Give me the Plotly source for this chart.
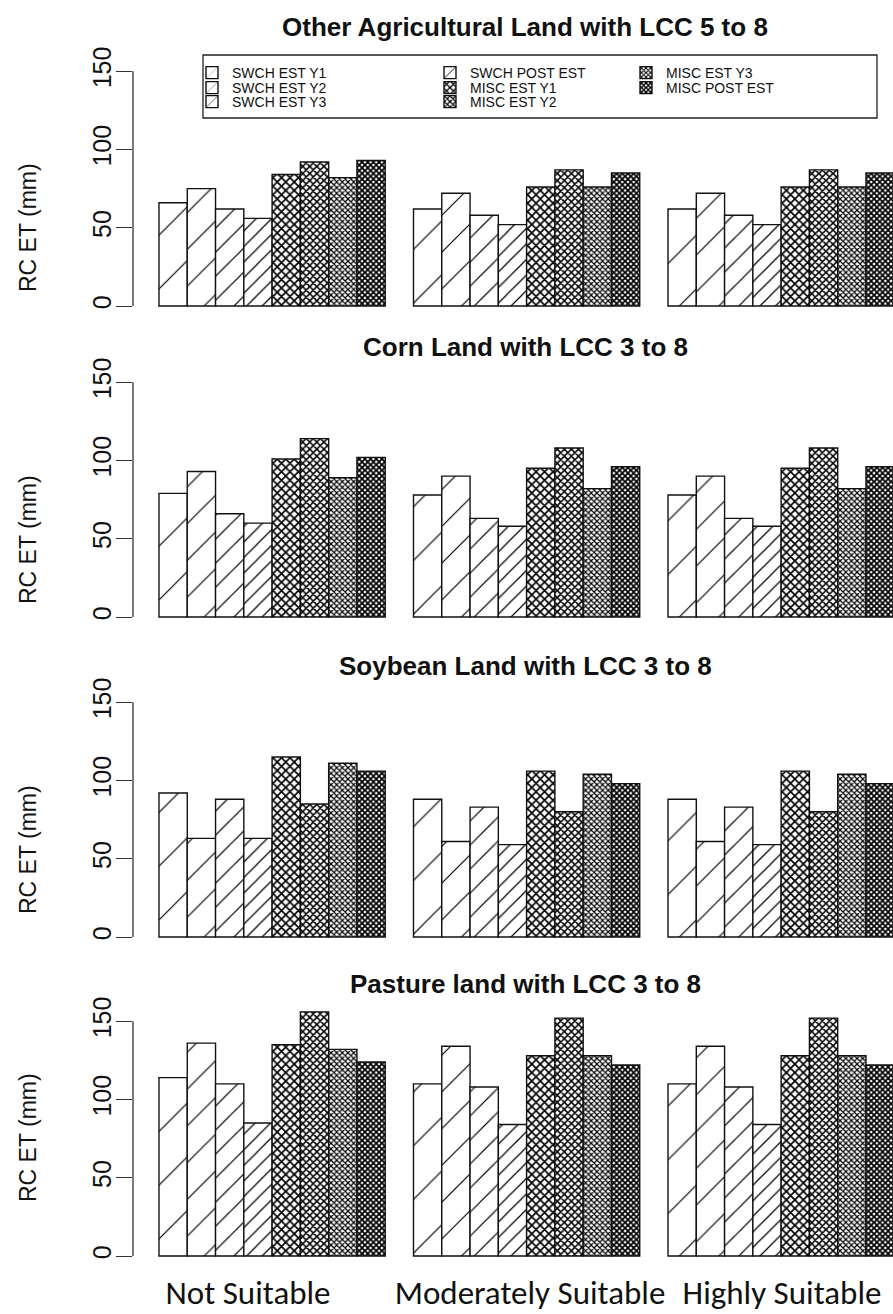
import plotly.graph_objects as go

W, H = 893, 1314

# ---- data -------------------------------------------------------------
suitability = ["Not Suitable", "Moderately Suitable", "Highly Suitable"]
series = ["SWCH EST Y1", "SWCH EST Y2", "SWCH EST Y3", "SWCH POST EST",
          "MISC EST Y1", "MISC EST Y2", "MISC EST Y3", "MISC POST EST"]
panel_titles = ["Other Agricultural Land with LCC 5 to 8",
                "Corn Land with LCC 3 to 8",
                "Soybean Land with LCC 3 to 8",
                "Pasture land with LCC 3 to 8"]
y_ticks = [0, 50, 100, 150]

# RC ET (mm); one row per suitability class, columns in series order
other_ag = [[66, 75, 62, 56, 84, 92, 82, 93],
            [62, 72, 58, 52, 76, 87, 76, 85],
            [62, 72, 58, 52, 76, 87, 76, 85]]
corn = [[79, 93, 66, 60, 101, 114, 89, 102],
        [78, 90, 63, 58, 95, 108, 82, 96],
        [78, 90, 63, 58, 95, 108, 82, 96]]
soybean = [[92, 63, 88, 63, 115, 85, 111, 106],
           [88, 61, 83, 59, 106, 80, 104, 98],
           [88, 61, 83, 59, 106, 80, 104, 98]]
pasture = [[114, 136, 110, 85, 135, 156, 132, 124],
           [110, 134, 108, 84, 128, 152, 128, 122],
           [110, 134, 108, 84, 128, 152, 128, 122]]
panels = [other_ag, corn, soybean, pasture]

# ---- styling ----------------------------------------------------------
FONT = "Liberation Sans, Arial, sans-serif"
INK = "#111"
patterns = [
    dict(shape="/", size=38, solidity=0.032),
    dict(shape="/", size=26, solidity=0.046),
    dict(shape="/", size=17, solidity=0.07),
    dict(shape="/", size=11, solidity=0.11),
    dict(shape="x", size=6, solidity=0.48),
    dict(shape="x", size=5, solidity=0.52),
    dict(shape="x", size=4, solidity=0.52),
    dict(shape="x", size=4, solidity=0.68),
]

# horizontal layout: one unit per bar, one empty unit before each group
px_per_unit = 28.28
x0_px = 130.7
axis_left_px = 133
x_range = [(axis_left_px - x0_px) / px_per_unit, (W - x0_px) / px_per_unit]
label_px = [248, 530, 782]
label_pos = [(p - x0_px) / px_per_unit for p in label_px]

# vertical layout per panel: pixel row of value 0, pixels per mm
zero_px = [306, 617, 937, 1256]
py_per_unit = 1.565
y_range = [-2, 166]
ylab_px = [228, 540, 850, 1138]
title_px = [27, 347, 666, 984]

# legend grid (R-style, filled column by column)
leg_col_px = [192, 430, 626]
leg_row_px = [73, 88, 102]

fig = go.Figure()
layout = dict(
    width=W, height=H, margin=dict(l=0, r=0, t=0, b=0),
    paper_bgcolor="white", plot_bgcolor="white",
    barmode="overlay", font=dict(family=FONT, color=INK),
)
shapes, annotations = [], []

for p, data in enumerate(panels):
    sfx = "" if p == 0 else str(p + 1)
    xa, ya = "x" + sfx, "y" + sfx
    for i, name in enumerate(series):
        fig.add_trace(go.Bar(
            x=[9 * g + i + 1.5 for g in range(3)],
            y=[data[g][i] for g in range(3)],
            width=1.0, name=name, legendgroup=name,
            legend="legend" if i == 0 else "legend%d" % (i + 1),
            showlegend=(p == 0),
            marker=dict(color="white",
                        line=dict(color=INK, width=1.4),
                        pattern=dict(fgcolor="black", bgcolor="white",
                                     fgopacity=1, **patterns[i])),
            xaxis=xa, yaxis=ya, hoverinfo="x+y+name",
        ))
    z = zero_px[p]
    top = z - y_range[1] * py_per_unit
    bot = z - y_range[0] * py_per_unit
    layout["xaxis" + sfx] = dict(
        domain=[axis_left_px / W, 1.0], range=x_range, anchor=ya,
        showgrid=False, zeroline=False, showline=False,
        tickvals=label_pos, ticktext=suitability,
        showticklabels=(p == 3), ticks="outside" if p == 3 else "",
        ticklen=4, tickcolor="rgba(0,0,0,0)",
        tickfont=dict(family="Carlito, Lato, sans-serif", size=33, color=INK),
    )
    layout["yaxis" + sfx] = dict(
        domain=[1 - bot / H, 1 - top / H], range=y_range, anchor=xa,
        showgrid=False, zeroline=False, showline=False,
        tickvals=y_ticks, ticks="outside", ticklen=16, tickwidth=1.3,
        tickcolor="#333", tickangle=-90, automargin=False,
        ticklabelstandoff=-5,
        tickfont=dict(family=FONT, size=25, color=INK),
    )
    # R-style axis line spanning only the labelled range
    shapes.append(dict(type="line", xref=xa + " domain", yref=ya,
                       x0=0, x1=0, y0=y_ticks[0], y1=y_ticks[-1],
                       line=dict(color="#333", width=1.3)))
    annotations.append(dict(text="<b>%s</b>" % panel_titles[p], xref="paper", yref="paper",
                            x=525 / W, y=1 - title_px[p] / H, showarrow=False,
                            xanchor="center", yanchor="middle",
                            font=dict(family=FONT, size=26, color=INK)))
    annotations.append(dict(text="RC ET (mm)", xref="paper", yref="paper",
                            x=28 / W, y=1 - ylab_px[p] / H, showarrow=False,
                            textangle=-90, xanchor="center", yanchor="middle",
                            font=dict(family=FONT, size=23, color=INK)))

# legend box; one single-entry legend per cell so rows sit tight like R's
shapes.append(dict(type="rect", xref="paper", yref="paper",
                   x0=203 / W, x1=877 / W, y0=1 - 118 / H, y1=1 - 55 / H,
                   line=dict(color="#222", width=1.3), fillcolor="rgba(0,0,0,0)"))
for i in range(len(series)):
    col, row = divmod(i, 3)
    key = "legend" if i == 0 else "legend%d" % (i + 1)
    layout[key] = dict(
        x=leg_col_px[col] / W, y=1 - leg_row_px[row] / H,
        xanchor="left", yanchor="middle",
        bgcolor="rgba(0,0,0,0)", borderwidth=0,
        font=dict(family=FONT, size=14, color=INK),
    )

layout["shapes"] = shapes
layout["annotations"] = annotations
fig.update_layout(**layout)

fig.write_html("out.html")
